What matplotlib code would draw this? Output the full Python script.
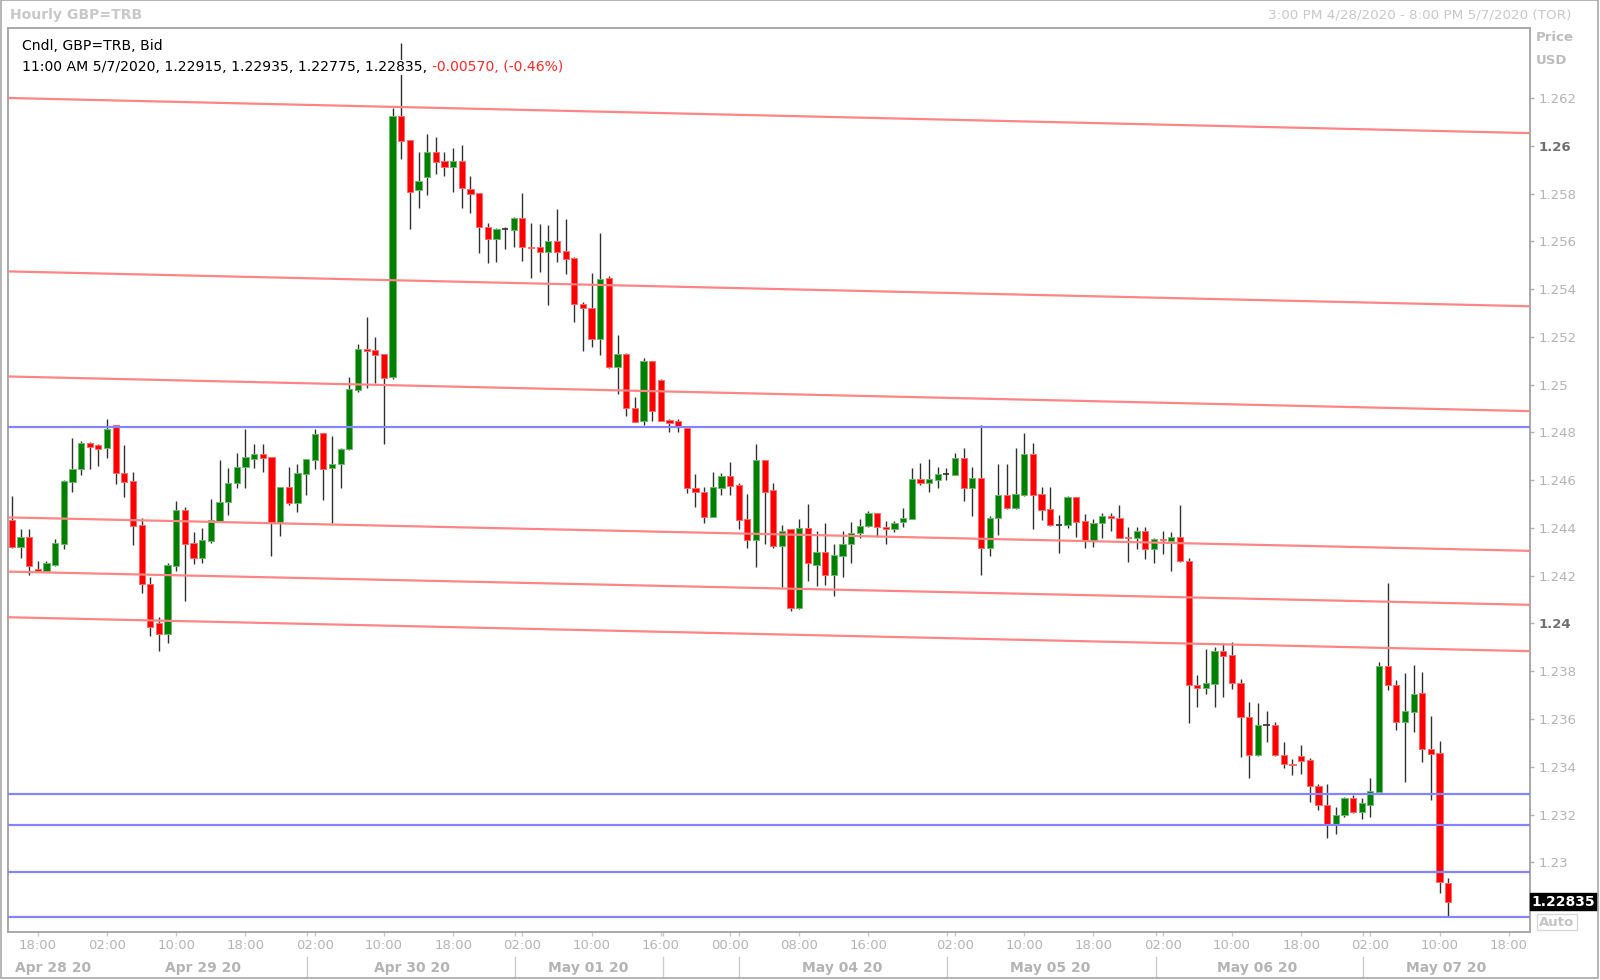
import matplotlib
matplotlib.use('Agg')
import matplotlib.pyplot as plt
import matplotlib.transforms as mtransforms
from matplotlib.patches import Rectangle

# Hourly GBP=TRB candles, 3:00 PM 4/28/2020 .. 11:00 AM 5/7/2020 (weekend gap skipped)
opens = [1.24433, 1.24319, 1.24361, 1.24227, 1.24218, 1.24246, 1.24333, 1.24594, 1.24645, 1.24757,
         1.24749, 1.24733, 1.24830, 1.24629, 1.24597, 1.24412, 1.24165, 1.24003, 1.23956, 1.24239,
         1.24474, 1.24336, 1.24276, 1.24347, 1.24430, 1.24507, 1.24587, 1.24653, 1.24690, 1.24711,
         1.24696, 1.24425, 1.24570, 1.24506, 1.24626, 1.24684, 1.24796, 1.24650, 1.24667, 1.24730,
         1.24977, 1.25148, 1.25143, 1.25128, 1.25030, 1.26125, 1.26024, 1.25815, 1.25868, 1.25975,
         1.25936, 1.25912, 1.25936, 1.25818, 1.25801, 1.25661, 1.25609, 1.25650, 1.25647, 1.25696,
         1.25578, 1.25576, 1.25555, 1.25600, 1.25558, 1.25530, 1.25338, 1.25322, 1.25190, 1.25445,
         1.25075, 1.25127, 1.24904, 1.24848, 1.25099, 1.25019, 1.24852, 1.24846, 1.24817, 1.24569,
         1.24552, 1.24447, 1.24566, 1.24617, 1.24580, 1.24437, 1.24349, 1.24684, 1.24559, 1.24326,
         1.24394, 1.24063, 1.24401, 1.24245, 1.24298, 1.24203, 1.24284, 1.24332, 1.24377, 1.24408,
         1.24461, 1.24403, 1.24394, 1.24426, 1.24437, 1.24605, 1.24589, 1.24601, 1.24624, 1.24622,
         1.24691, 1.24566, 1.24608, 1.24314, 1.24440, 1.24538, 1.24485, 1.24538, 1.24710, 1.24542,
         1.24479, 1.24412, 1.24412, 1.24528, 1.24429, 1.24347, 1.24419, 1.24450, 1.24441, 1.24363,
         1.24356, 1.24389, 1.24310, 1.24354, 1.24347, 1.24361, 1.24262, 1.23742, 1.23728, 1.23745,
         1.23886, 1.23868, 1.23749, 1.23610, 1.23449, 1.23575, 1.23575, 1.23449, 1.23412, 1.23445,
         1.23428, 1.23321, 1.23240, 1.23156, 1.23198, 1.23268, 1.23209, 1.23238, 1.23296, 1.23823,
         1.23742, 1.23589, 1.23631, 1.23708, 1.23473, 1.23456, 1.22915]
highs = [1.24534, 1.24394, 1.24394, 1.24260, 1.24260, 1.24352, 1.24600, 1.24775, 1.24762, 1.24760,
         1.24750, 1.24855, 1.24832, 1.24749, 1.24633, 1.24440, 1.24193, 1.24028, 1.24252, 1.24514,
         1.24488, 1.24382, 1.24398, 1.24521, 1.24684, 1.24650, 1.24712, 1.24814, 1.24751, 1.24751,
         1.24697, 1.24572, 1.24654, 1.24668, 1.24690, 1.24816, 1.24798, 1.24785, 1.24733, 1.25031,
         1.25169, 1.25285, 1.25199, 1.25130, 1.26157, 1.26429, 1.26025, 1.25972, 1.26048, 1.26035,
         1.25972, 1.25989, 1.26003, 1.25873, 1.25802, 1.25675, 1.25654, 1.25661, 1.25703, 1.25801,
         1.25678, 1.25672, 1.25668, 1.25737, 1.25693, 1.25533, 1.25347, 1.25466, 1.25633, 1.25455,
         1.25208, 1.25131, 1.24950, 1.25113, 1.25100, 1.25023, 1.24855, 1.24855, 1.24824, 1.24626,
         1.24573, 1.24633, 1.24629, 1.24676, 1.24587, 1.24541, 1.24751, 1.24686, 1.24589, 1.24412,
         1.24396, 1.24437, 1.24500, 1.24388, 1.24419, 1.24333, 1.24388, 1.24426, 1.24436, 1.24471,
         1.24462, 1.24429, 1.24429, 1.24482, 1.24652, 1.24673, 1.24689, 1.24656, 1.24650, 1.24712,
         1.24733, 1.24654, 1.24831, 1.24450, 1.24666, 1.24666, 1.24733, 1.24796, 1.24757, 1.24573,
         1.24570, 1.24454, 1.24534, 1.24530, 1.24458, 1.24436, 1.24461, 1.24464, 1.24496, 1.24403,
         1.24403, 1.24402, 1.24356, 1.24389, 1.24382, 1.24497, 1.24273, 1.23784, 1.23892, 1.23903,
         1.23920, 1.23924, 1.23766, 1.23673, 1.23668, 1.23635, 1.23589, 1.23505, 1.23431, 1.23491,
         1.23435, 1.23328, 1.23328, 1.23230, 1.23274, 1.23282, 1.23268, 1.23351, 1.23840, 1.24168,
         1.23763, 1.23791, 1.23826, 1.23798, 1.23612, 1.23508, 1.22935]
lows = [1.24315, 1.24274, 1.24203, 1.24215, 1.24215, 1.24242, 1.24310, 1.24549, 1.24622, 1.24645,
        1.24661, 1.24694, 1.24585, 1.24530, 1.24330, 1.24129, 1.23948, 1.23886, 1.23920, 1.24221,
        1.24095, 1.24250, 1.24255, 1.24335, 1.24428, 1.24454, 1.24566, 1.24566, 1.24650, 1.24633,
        1.24282, 1.24368, 1.24498, 1.24465, 1.24538, 1.24647, 1.24517, 1.24419, 1.24569, 1.24728,
        1.24970, 1.24984, 1.25005, 1.24751, 1.25025, 1.25943, 1.25650, 1.25738, 1.25794, 1.25882,
        1.25873, 1.25808, 1.25738, 1.25717, 1.25552, 1.25511, 1.25515, 1.25566, 1.25575, 1.25519,
        1.25445, 1.25473, 1.25333, 1.25515, 1.25463, 1.25264, 1.25141, 1.25159, 1.25124, 1.25068,
        1.24961, 1.24869, 1.24843, 1.24830, 1.24848, 1.24847, 1.24800, 1.24800, 1.24548, 1.24489,
        1.24419, 1.24445, 1.24538, 1.24538, 1.24394, 1.24315, 1.24238, 1.24333, 1.24314, 1.24151,
        1.24053, 1.24059, 1.24178, 1.24158, 1.24161, 1.24115, 1.24196, 1.24252, 1.24356, 1.24405,
        1.24363, 1.24333, 1.24384, 1.24405, 1.24436, 1.24579, 1.24552, 1.24566, 1.24600, 1.24620,
        1.24514, 1.24450, 1.24203, 1.24282, 1.24370, 1.24478, 1.24478, 1.24534, 1.24394, 1.24433,
        1.24408, 1.24296, 1.24398, 1.24363, 1.24314, 1.24319, 1.24356, 1.24388, 1.24356, 1.24259,
        1.24310, 1.24270, 1.24252, 1.24291, 1.24220, 1.24256, 1.23585, 1.23649, 1.23705, 1.23649,
        1.23693, 1.23724, 1.23442, 1.23352, 1.23447, 1.23505, 1.23445, 1.23393, 1.23365, 1.23370,
        1.23254, 1.23219, 1.23100, 1.23118, 1.23188, 1.23205, 1.23180, 1.23191, 1.23294, 1.23721,
        1.23554, 1.23338, 1.23547, 1.23421, 1.23261, 1.22870, 1.22775]
closes = [1.24319, 1.24363, 1.24241, 1.24218, 1.24253, 1.24337, 1.24597, 1.24648, 1.24757, 1.24740,
          1.24732, 1.24813, 1.24630, 1.24594, 1.24409, 1.24164, 1.23987, 1.23956, 1.24246, 1.24474,
          1.24333, 1.24274, 1.24349, 1.24433, 1.24510, 1.24588, 1.24656, 1.24696, 1.24711, 1.24694,
          1.24425, 1.24570, 1.24506, 1.24629, 1.24689, 1.24792, 1.24645, 1.24668, 1.24732, 1.24980,
          1.25148, 1.25141, 1.25124, 1.25026, 1.26125, 1.26021, 1.25808, 1.25852, 1.25975, 1.25933,
          1.25912, 1.25936, 1.25822, 1.25799, 1.25658, 1.25608, 1.25650, 1.25652, 1.25696, 1.25575,
          1.25570, 1.25555, 1.25600, 1.25555, 1.25526, 1.25336, 1.25319, 1.25190, 1.25441, 1.25075,
          1.25127, 1.24901, 1.24845, 1.25099, 1.24891, 1.24849, 1.24841, 1.24824, 1.24566, 1.24550,
          1.24447, 1.24573, 1.24617, 1.24577, 1.24433, 1.24349, 1.24684, 1.24552, 1.24326, 1.24388,
          1.24063, 1.24401, 1.24252, 1.24301, 1.24203, 1.24287, 1.24333, 1.24377, 1.24409, 1.24461,
          1.24405, 1.24395, 1.24422, 1.24443, 1.24605, 1.24589, 1.24605, 1.24626, 1.24626, 1.24691,
          1.24566, 1.24608, 1.24314, 1.24440, 1.24538, 1.24482, 1.24542, 1.24710, 1.24538, 1.24475,
          1.24412, 1.24413, 1.24528, 1.24426, 1.24349, 1.24422, 1.24450, 1.24440, 1.24359, 1.24356,
          1.24388, 1.24310, 1.24354, 1.24348, 1.24361, 1.24262, 1.23742, 1.23728, 1.23749, 1.23886,
          1.23865, 1.23749, 1.23610, 1.23449, 1.23575, 1.23574, 1.23449, 1.23410, 1.23406, 1.23425,
          1.23320, 1.23240, 1.23156, 1.23198, 1.23268, 1.23209, 1.23250, 1.23300, 1.23823, 1.23742,
          1.23589, 1.23635, 1.23703, 1.23473, 1.23453, 1.22916, 1.22835]

# x axis: hour labels every 8 bars, day names in the lower row
tick_pos = [3, 11, 19, 27, 35, 43, 51, 59, 67, 75, 83, 91, 99,
            109, 117, 125, 133, 141, 149, 157, 165, 173]
tick_labels = ['18:00', '02:00', '10:00', '18:00', '02:00', '10:00', '18:00', '02:00', '10:00',
               '16:00', '00:00', '08:00', '16:00', '02:00', '10:00', '18:00', '02:00', '10:00',
               '18:00', '02:00', '10:00', '18:00']
day_seps = [34.1, 58.2, 75.2, 84.0, 108.1, 132.2, 156.2]
day_pos = [4.8, 22.1, 46.2, 66.6, 96.0, 120.0, 143.9, 165.7]
day_labels = ['Apr 28 20', 'Apr 29 20', 'Apr 30 20', 'May 01 20',
              'May 04 20', 'May 05 20', 'May 06 20', 'May 07 20']

# y axis
price_ticks = [1.230, 1.232, 1.234, 1.236, 1.238, 1.240, 1.242, 1.244, 1.246,
               1.248, 1.250, 1.252, 1.254, 1.256, 1.258, 1.260, 1.262]

# drawn trend lines: (value at left edge, value at right edge)
red_lines = [(1.26200, 1.26053), (1.25474, 1.25328), (1.25034, 1.24889),
             (1.24444, 1.24304), (1.24217, 1.24078), (1.24026, 1.23884)]
blue_levels = [1.24823, 1.23288, 1.23155, 1.22961, 1.22769]

# header of the last bar
last_time = '11:00 AM 5/7/2020'
last_change = '-0.00570, (-0.46%)'

W, H = 1600, 980
XMIN, XMAX = -0.41, 175.45
YMIN, YMAX = 1.227069, 1.264918


def fx(px):
    return px / W


def fy(py):
    return 1 - py / H


fig = plt.figure(figsize=(W / 100, H / 100), dpi=100)
ax = fig.add_axes([fx(8.3), fy(932.3), fx(1530) - fx(8.3), fy(28.3) - fy(932.3)])
ax.set_xlim(XMIN, XMAX)
ax.set_ylim(YMIN, YMAX)

# candles
WICK = '#303030'
for i in range(len(closes)):
    o, h, l, c = opens[i], highs[i], lows[i], closes[i]
    ax.vlines(i, l, h, color=WICK, lw=1.0, zorder=2)
    if abs(c - o) < 0.00004:
        ax.hlines(c, i - 0.36, i + 0.36, color=WICK, lw=1.2, zorder=3)
        continue
    if c > o:
        fc, ec = '#008000', '#70b870'
    else:
        fc, ec = '#ff0000', '#ff6a6a'
    ax.add_patch(Rectangle((i - 0.36, min(o, c)), 0.72, abs(c - o),
                           facecolor=fc, edgecolor=ec, lw=0.7, zorder=3))

# trend lines and levels, drawn over the candles
for left, right in red_lines:
    ax.plot([XMIN, XMAX], [left, right], color='#ff8484', lw=1.6, zorder=4)
for lvl in blue_levels:
    ax.axhline(lvl, color='#8484ff', lw=1.6, zorder=4)

# frame
for side in ['left', 'right', 'top', 'bottom']:
    ax.spines[side].set_color('#a8a8a8')
    ax.spines[side].set_linewidth(1.4)

# x axis ticks and day row
ax.set_xticks(tick_pos, labels=tick_labels)
ax.set_xticks(day_seps, minor=True)
ax.tick_params(axis='x', which='both', direction='out', length=3, width=1,
               color='#c8c8c8', labelcolor='#b4b4b4', labelsize=9.5, pad=2)
trans = mtransforms.blended_transform_factory(ax.transData, ax.transAxes)
for xs in day_seps:
    ax.plot([xs, xs], [-0.0277, -0.0502], transform=trans, color='#cccccc',
            lw=1, clip_on=False)
for xp, lab in zip(day_pos, day_labels):
    ax.text(xp, -0.0395, lab, transform=trans, ha='center', va='center',
            fontsize=10, fontweight='bold', color='#b4b4b4')

# price axis on the right
ax.yaxis.tick_right()
ax.set_yticks(price_ticks, labels=[f'{p:g}' for p in price_ticks])
ax.tick_params(axis='y', direction='out', length=3, width=1, color='#b0b0b0',
               labelcolor='#b4b4b4', labelsize=9.5, pad=3)
for lab, p in zip(ax.get_yticklabels(), price_ticks):
    if round(p, 3) in (1.24, 1.26):
        lab.set_fontweight('bold')
        lab.set_color('#707070')

# last price marker and "Auto" box
ax.annotate(f'{closes[-1]:.5f}', xy=(1, closes[-1]), xycoords=('axes fraction', 'data'),
            xytext=(1.2, 0), textcoords='offset points', ha='left', va='center',
            fontsize=10, fontweight='bold', color='white', annotation_clip=False,
            bbox=dict(boxstyle='square,pad=0.12', fc='black', ec='black'))
fig.text(fx(1557), fy(922), 'Auto', ha='center', va='center', fontsize=9.5,
         fontweight='bold', color='#c4c4c4',
         bbox=dict(boxstyle='square,pad=0.15', fc='white', ec='#d8d8d8'))
fig.text(fx(1536), fy(37.6), 'Price', ha='left', va='center', fontsize=9.5,
         fontweight='bold', color='#bcbcbc')
fig.text(fx(1536), fy(60), 'USD', ha='left', va='center', fontsize=9.5,
         fontweight='bold', color='#bcbcbc')

# header texts
fig.text(fx(10), fy(15), 'Hourly GBP=TRB', ha='left', va='center', fontsize=10.1,
         fontweight='bold', color='#c8c8c8')
fig.text(fx(1571), fy(15), '3:00 PM 4/28/2020 - 8:00 PM 5/7/2020 (TOR)', ha='right',
         va='center', fontsize=9.7, color='#c8c8c8')
fig.text(fx(22.5), fy(46), 'Cndl, GBP=TRB, Bid', ha='left', va='center',
         fontsize=10.1, color='black')
last = len(closes) - 1
t1 = fig.text(fx(22.5), fy(67.4),
              f'{last_time}, {opens[last]:.5f}, {highs[last]:.5f}, '
              f'{lows[last]:.5f}, {closes[last]:.5f}, ',
              ha='left', va='center', fontsize=10.1, color='black', zorder=5,
              bbox=dict(boxstyle='square,pad=0.05', fc='white', ec='none'))
ax.annotate(last_change, xy=(1, 0), xycoords=t1, ha='left', va='bottom',
            fontsize=10.1, color='#ff2a2a', annotation_clip=False, zorder=5,
            bbox=dict(boxstyle='square,pad=0.05', fc='white', ec='none'))

# outer frame of the picture
fig.add_artist(Rectangle((fx(0.5), fy(978)), fx(1597.5), fy(0.5) - fy(978),
                         transform=fig.transFigure, fill=False, ec='#a8a8a8', lw=1.2))

fig.savefig('out.png', dpi=100, facecolor='white')
